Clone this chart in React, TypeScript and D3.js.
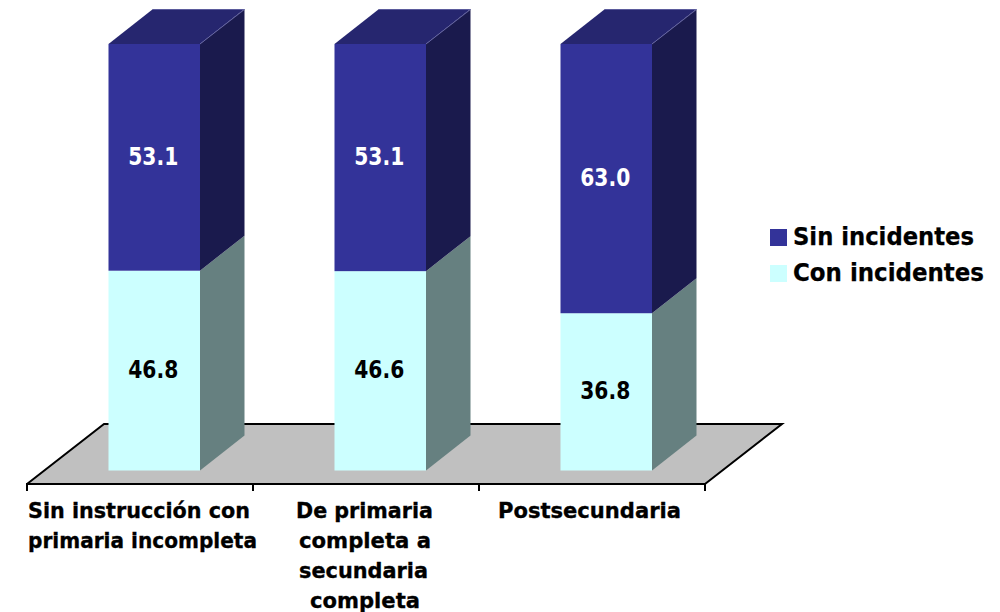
import React from "react";
import * as d3 from "d3";

const categories = ["Sin instrucción con|primaria incompleta", "De primaria|completa a|secundaria|completa", "Postsecundaria"];
const sinIncidentes = [53.1, 53.1, 63.0];
const conIncidentes = [46.8, 46.6, 36.8];
const legendLabels = ["Sin incidentes", "Con incidentes"];
const labelLengths = [[222, 229], [137, 132, 129, 110], [183]];
const labelShift = [[-1, 2.5], [-1.5, -1, -2.5, -1], [-2.5]];

const FONT = "'DejaVu Sans', Verdana, sans-serif";
const W = 1000, H = 612;
const X0 = 27, X1 = 705, Y0 = 484;
const DX = 44.5, DY = 35;
const FDX = 77, FDY = 60;
const BAR_OFF = 81.5, BAR_W = 91.5;

const x = d3.scaleBand<number>().domain(categories.map((_, i) => i)).range([X0, X1]);
const y = d3.scaleLinear().domain([0, 100]).range([470.5, 44]);
const poly = (p: number[][]) => (d3.line()(p as [number, number][]) ?? "") + "Z";

function Bar({ i }: { i: number }) {
  const total = sinIncidentes[i] + conIncidentes[i];
  const stack = d3.stack<number>().keys(["con", "sin"]).value((_, k) => (k === "con" ? conIncidentes[i] : sinIncidentes[i]) / total * 100)([0]);
  const l = (x(i) ?? 0) + BAR_OFF, r = l + BAR_W;
  const yBase = y(0), yMid = y(stack[0][0][1]), yTop = y(stack[1][0][1]);
  const cx = (l + r) / 2 - 1;
  return (
    <g>
      <path d={poly([[r, yBase], [r + DX, yBase - DY], [r + DX, yMid - DY], [r, yMid]])} fill="#668080" />
      <rect x={l} y={yMid} width={BAR_W} height={yBase - yMid} fill="#ccffff" />
      <path d={poly([[r, yMid], [r + DX, yMid - DY], [r + DX, yTop - DY], [r, yTop]])} fill="#1a1a4d" />
      <path d={poly([[l, yTop], [l + DX, yTop - DY], [r + DX, yTop - DY], [r, yTop]])} fill="#26266f" />
      <rect x={l} y={yTop} width={BAR_W} height={yMid - yTop} fill="#333399" />
      <path d={`M${l + DX},${yTop - DY + 0.5}H${r + DX}L${r},${yTop}`} fill="none" stroke="#6a6aa8" strokeWidth={0.8} />
      <text x={cx} y={(yTop + yMid) / 2 + 7.5} textAnchor="middle" fontFamily={FONT} fontWeight="bold" fontSize={24} fill="#fff" textLength={50} lengthAdjust="spacingAndGlyphs">{sinIncidentes[i].toFixed(1)}</text>
      <text x={cx} y={(yMid + yBase) / 2 + 7.5} textAnchor="middle" fontFamily={FONT} fontWeight="bold" fontSize={24} fill="#000" textLength={50} lengthAdjust="spacingAndGlyphs">{conIncidentes[i].toFixed(1)}</text>
    </g>
  );
}

export default function App() {
  return (
    <svg width={W} height={H} viewBox={`0 0 ${W} ${H}`} style={{ position: "absolute", left: 0, top: 0, background: "#fff" }}>
      <path d={poly([[X0, Y0], [X0 + FDX, Y0 - FDY], [X1 + FDX, Y0 - FDY], [X1, Y0]])} fill="#c0c0c0" />
      <path d={`M${X0},${Y0}L${X0 + FDX},${Y0 - FDY}H${X1 + FDX}L${X1},${Y0}`} fill="none" stroke="#000" strokeWidth={2} />
      {categories.map((_, i) => <Bar key={i} i={i} />)}
      <line x1={X0 - 1} x2={X1 + 1} y1={Y0} y2={Y0} stroke="#000" strokeWidth={2} />
      {[...categories.map((_, i) => x(i) ?? 0), X1].map((t, i) => (
        <line key={i} x1={t} x2={t} y1={Y0} y2={Y0 + 7} stroke="#000" strokeWidth={2} />
      ))}
      {categories.map((c, i) => (
        <text key={i} textAnchor="middle" fontFamily={FONT} fontWeight="bold" fontSize={22} fill="#000" stroke="#000" strokeWidth={0.35}>
          {c.split("|").map((line, k) => (
            <tspan key={k} x={(x(i) ?? 0) + x.bandwidth() / 2 + labelShift[i][k]} y={518 + k * 30} textLength={labelLengths[i][k]} lengthAdjust="spacingAndGlyphs">{line}</tspan>
          ))}
        </text>
      ))}
      {legendLabels.map((t, i) => (
        <g key={t}>
          <rect x={770} y={229 + i * 36} width={17} height={17} fill={i === 0 ? "#333399" : "#ccffff"} />
          <text x={793} y={245 + i * 36} fontFamily={FONT} fontWeight="bold" fontSize={24} fill="#000" stroke="#000" strokeWidth={0.25} textLength={i === 0 ? 181 : 191} lengthAdjust="spacingAndGlyphs">{t}</text>
        </g>
      ))}
    </svg>
  );
}
